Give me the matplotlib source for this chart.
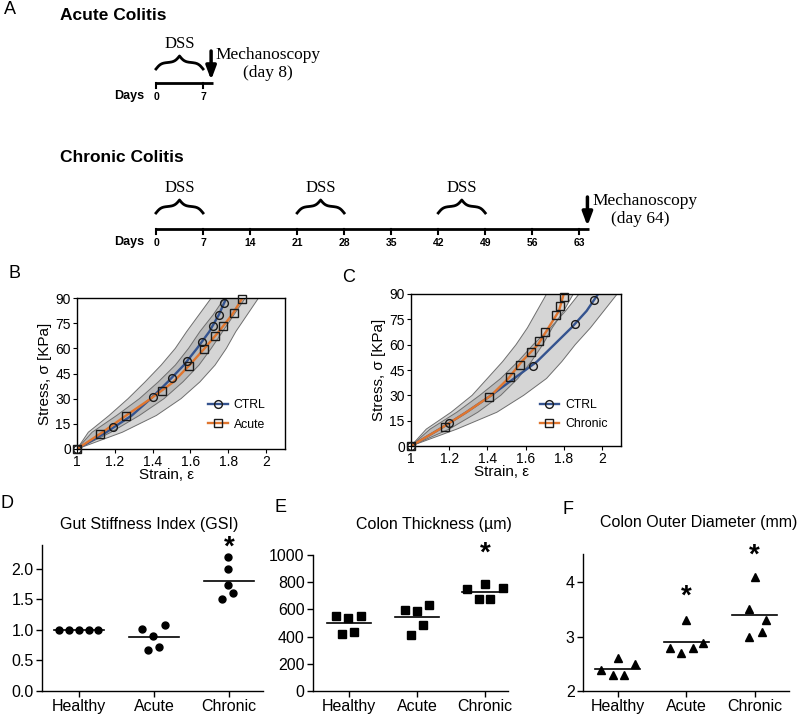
import numpy as np
import matplotlib
matplotlib.use('Agg')
import matplotlib.pyplot as plt
from matplotlib.lines import Line2D

plt.rcParams['font.family'] = ['Liberation Sans', 'DejaVu Sans']

# ---------------- data ----------------
# A: timelines (days)
acute_dss = [(0, 7)]
acute_ticks = [0, 7]
acute_mech_day = 8
chronic_dss = [(0, 7), (21, 28), (42, 49)]
chronic_ticks = [0, 7, 14, 21, 28, 35, 42, 49, 56, 63]
chronic_mech_day = 64

# B / C: stress-strain
fit_stress = [0, 10, 20, 30, 40, 50, 60, 70, 80, 90]
b_ctrl_fit = [1.0, 1.155, 1.29, 1.39, 1.48, 1.565, 1.635, 1.70, 1.75, 1.79]
b_acute_fit = [1.0, 1.135, 1.26, 1.39, 1.51, 1.595, 1.675, 1.75, 1.82, 1.875]
b_ctrl_strain = [1.0, 1.19, 1.40, 1.50, 1.58, 1.66, 1.72, 1.75, 1.78]
b_ctrl_stress = [0, 13.1, 31.1, 42.4, 52.3, 63.6, 73.2, 80.1, 86.8]
b_acute_strain = [1.0, 1.12, 1.26, 1.45, 1.59, 1.67, 1.73, 1.77, 1.83, 1.87]
b_acute_stress = [0, 8.9, 19.8, 34.5, 49.4, 59.5, 67.4, 73.2, 80.9, 89.4]

c_ctrl_fit = [1.0, 1.15, 1.29, 1.42, 1.54, 1.66, 1.75, 1.84, 1.92, 1.98]
c_chronic_fit = [1.0, 1.15, 1.29, 1.42, 1.51, 1.58, 1.665, 1.72, 1.775, 1.80]
c_ctrl_strain = [1.0, 1.20, 1.64, 1.86, 1.96]
c_ctrl_stress = [0, 13.8, 47.6, 72.4, 86.4]
c_chronic_strain = [1.0, 1.18, 1.41, 1.52, 1.57, 1.63, 1.67, 1.70, 1.76, 1.78, 1.80]
c_chronic_stress = [0, 11.2, 29.2, 40.9, 48.0, 55.7, 62.0, 67.5, 77.8, 83.1, 88.2]

band_stress = [0, 10, 20, 30, 40, 50, 60, 70, 80, 90, 100]
b_ctrl_lo = [1.0, 1.06, 1.17, 1.27, 1.36, 1.445, 1.52, 1.58, 1.645, 1.71, 1.77]
b_ctrl_hi = [1.0, 1.18, 1.33, 1.46, 1.56, 1.645, 1.71, 1.77, 1.83, 1.89, 1.95]
b_acute_lo = [1.0, 1.08, 1.21, 1.33, 1.43, 1.52, 1.59, 1.65, 1.72, 1.78, 1.84]
b_acute_hi = [1.0, 1.24, 1.42, 1.55, 1.65, 1.73, 1.79, 1.84, 1.90, 1.96, 2.02]
c_chronic_lo = [1.0, 1.08, 1.21, 1.32, 1.40, 1.48, 1.55, 1.61, 1.66, 1.71, 1.75]
c_chronic_hi = [1.0, 1.20, 1.35, 1.47, 1.56, 1.63, 1.69, 1.74, 1.80, 1.85, 1.89]
c_ctrl_lo = [1.0, 1.10, 1.24, 1.36, 1.47, 1.56, 1.64, 1.73, 1.81, 1.88, 1.94]
c_ctrl_hi = [1.0, 1.24, 1.45, 1.59, 1.71, 1.79, 1.86, 1.94, 2.01, 2.08, 2.14]

# D / E / F: per-animal values
groups = ['Healthy', 'Acute', 'Chronic']
gsi = [[1.0, 1.0, 1.0, 1.0, 1.0],
       [1.02, 0.90, 1.08, 0.67, 0.72],
       [2.19, 1.99, 1.74, 1.51, 1.60]]
thickness = [[554, 537, 554, 421, 436],
             [594, 586, 635, 411, 483],
             [751, 786, 759, 675, 675]]
diameter = [[2.39, 2.29, 2.60, 2.29, 2.49],
            [2.80, 2.70, 3.30, 2.80, 2.89],
            [3.51, 4.10, 3.30, 3.09, 3.00]]
gsi_stars = {2: 2.39}
thickness_stars = {2: 1030}
diameter_stars = {1: 3.79, 2: 4.54}

# horizontal scatter offsets of the dots
gsi_jit = [[-0.26, -0.13, 0, 0.13, 0.26],
           [-0.155, -0.01, 0.14, -0.075, 0.067],
           [-0.01, -0.02, -0.02, -0.10, 0.05]]
thick_jit = [[-0.19, -0.01, 0.17, -0.10, 0.08],
             [-0.18, 0, 0.18, -0.09, 0.09],
             [-0.26, 0, 0.26, -0.09, 0.08]]
diam_jit = [[-0.25, -0.07, 0, 0.09, 0.25],
            [-0.24, -0.08, 0, 0.09, 0.25],
            [-0.09, 0, 0.17, 0.10, -0.09]]

BLUE = '#34538f'
ORANGE = '#e0762f'
W, H = 800, 715


def box(l, t, r, b):
    return [l / W, 1 - b / H, (r - l) / W, (b - t) / H]


def ftext(px, py, s, **kw):
    fig.text(px / W, 1 - py / H, s, **kw)


fig = plt.figure(figsize=(8, 7.15), dpi=100)

# ---------------- A ----------------
PX0, PXD = 156, 6.72
ax0 = fig.add_axes([0, 0, 1, 1])
ax0.set_xlim(-PX0 / PXD, (W - PX0) / PXD)
ax0.set_ylim(H, 0)
ax0.axis('off')
serif = ['Liberation Serif', 'DejaVu Serif']


def brace(d0, d1, y_end, h):
    x = np.linspace(d0, d1, 201)
    half = x[:101]
    beta = 2.6
    yh = 1 / (1 + np.exp(-beta * (half - half[0]))) + 1 / (1 + np.exp(-beta * (half - half[-1])))
    yy = np.concatenate([yh, yh[-2::-1]])
    ax0.plot(x, y_end - h * (yy - 0.5), color='black', lw=2)


def timeline(y_line, dss, ticks, mech_day, y_dss, label_day):
    ax0.plot([0, mech_day + 0.5], [y_line, y_line], color='black', lw=2, solid_capstyle='butt')
    for t in ticks:
        ax0.plot([t, t], [y_line, y_line + 5], color='black', lw=1.5)
        ax0.text(t, y_line + 14, str(t), ha='center', va='center', fontsize=7.5, fontweight='bold')
    ax0.text(-1.7, y_line + 13, 'Days', ha='right', va='center', fontsize=9, fontweight='bold')
    for d0, d1 in dss:
        brace(d0, d1, y_dss + 25, 13)
        ax0.text((d0 + d1) / 2, y_dss, 'DSS', ha='center', va='center', fontsize=12, family=serif)
    ax0.annotate('', xy=(mech_day + 0.2, y_line - 3), xytext=(mech_day + 0.2, y_line - 32),
                 arrowprops=dict(arrowstyle='-|>,head_width=0.3,head_length=0.8', lw=2.5,
                                 color='black', shrinkA=0, shrinkB=0))
    ax0.text(mech_day + 0.9, y_line - 28, 'Mechanoscopy', ha='left', va='center', fontsize=12.5, family=serif)
    ax0.text(label_day, y_line - 10, '(day %d)' % mech_day, ha='center', va='center', fontsize=12.5, family=serif)


timeline(83, acute_dss, acute_ticks, acute_mech_day, 44, 16.7)
timeline(229, chronic_dss, chronic_ticks, chronic_mech_day, 188, 72.0)

ftext(4, 10, 'A', fontsize=13, va='center')
ftext(60, 16, 'Acute Colitis', fontsize=12.5, fontweight='bold', va='center')
ftext(60, 158, 'Chronic Colitis', fontsize=12.5, fontweight='bold', va='center')


# ---------------- B / C ----------------
def strain_panel(rect, bands, curves, leg_labels, leg_anchor):
    ax = fig.add_axes(rect)
    for lo, hi in bands:
        ax.fill_betweenx(band_stress, lo, hi, facecolor='#8c8c8c', alpha=0.36, edgecolor='none')
        ax.plot(lo, band_stress, color='#6e6e6e', lw=0.7)
        ax.plot(hi, band_stress, color='#6e6e6e', lw=0.7)
    handles = []
    for fit, xs, ys, col, mk in curves:
        ax.plot(fit, fit_stress, color=col, lw=1.7)
        ax.plot(xs, ys, mk, mfc='none', mec='#1a1a1a', ms=5.6, mew=1.0, clip_on=False, zorder=4)
        handles.append(Line2D([], [], color=col, lw=1.7, marker=mk, mfc='none', mec='#1a1a1a', ms=5.6, mew=1.0))
    ax.set_xlim(1, 2.1)
    ax.set_ylim(0, 90)
    ax.set_xticks([1, 1.2, 1.4, 1.6, 1.8, 2])
    ax.set_xticklabels(['1', '1.2', '1.4', '1.6', '1.8', '2'])
    ax.set_yticks([0, 15, 30, 45, 60, 75, 90])
    ax.tick_params(direction='out', length=3, width=0.8, labelsize=10, pad=1.5)
    for s in ax.spines.values():
        s.set_linewidth(1.0)
    ax.set_xlabel('Strain, ε', fontsize=11)
    ax.xaxis.set_label_coords(0.43, -0.125)
    ax.set_ylabel('Stress, σ [KPa]', fontsize=11, labelpad=2)
    ax.legend(handles, leg_labels, loc='lower right', bbox_to_anchor=leg_anchor, frameon=False,
              fontsize=8.8, handlelength=1.6, handletextpad=0.5, labelspacing=0.6, borderaxespad=0)
    return ax


strain_panel(box(77, 298, 285, 449),
             [(b_ctrl_lo, b_ctrl_hi), (b_acute_lo, b_acute_hi)],
             [(b_ctrl_fit, b_ctrl_strain, b_ctrl_stress, BLUE, 'o'),
              (b_acute_fit, b_acute_strain, b_acute_stress, ORANGE, 's')],
             ['CTRL', 'Acute'], (0.93, 0.09))
strain_panel(box(411, 294, 621, 446),
             [(c_chronic_lo, c_chronic_hi), (c_ctrl_lo, c_ctrl_hi)],
             [(c_ctrl_fit, c_ctrl_strain, c_ctrl_stress, BLUE, 'o'),
              (c_chronic_fit, c_chronic_strain, c_chronic_stress, ORANGE, 's')],
             ['CTRL', 'Chronic'], (0.96, 0.07))
ftext(8, 274, 'B', fontsize=13, va='center')
ftext(342, 277, 'C', fontsize=13, va='center')


# ---------------- D / E / F ----------------
def dot_panel(rect, values, jit, marker, ms, xlim, ylim, yticks, ytl, stars):
    ax = fig.add_axes(rect)
    for i, (vals, jj) in enumerate(zip(values, jit)):
        ax.plot([i + j for j in jj], vals, marker, color='black', ms=ms, ls='none', clip_on=False, zorder=3)
        ax.plot([i - 0.33, i + 0.33], [np.mean(vals)] * 2, color='black', lw=1.2)
    for i, y in stars.items():
        ax.text(i, y, '*', ha='center', va='center_baseline', fontsize=20, fontweight='bold')
    ax.set_xlim(*xlim)
    ax.set_ylim(*ylim)
    ax.set_xticks(range(len(groups)))
    ax.set_xticklabels(groups)
    ax.set_yticks(yticks)
    ax.set_yticklabels(ytl)
    ax.spines['top'].set_visible(False)
    ax.spines['right'].set_visible(False)
    for s in ('left', 'bottom'):
        ax.spines[s].set_linewidth(1.0)
    ax.tick_params(direction='out', length=4, width=1.0, labelsize=11.5, pad=2)
    return ax


dot_panel(box(42, 545, 263, 691), gsi, gsi_jit, 'o', 5.0, (-0.49, 2.45), (0, 2.39),
          [0, 0.5, 1.0, 1.5, 2.0], ['0.0', '0.5', '1.0', '1.5', '2.0'], gsi_stars)
dot_panel(box(313, 555, 508, 691), thickness, thick_jit, 's', 5.4, (-0.53, 2.34), (0, 1000),
          [0, 200, 400, 600, 800, 1000], ['0', '200', '400', '600', '800', '1000'], thickness_stars)
dot_panel(box(583, 554, 789, 691), diameter, diam_jit, '^', 5.6, (-0.51, 2.5), (2, 4.52),
          [2, 3, 4], ['2', '3', '4'], diameter_stars)

ftext(149, 524, 'Gut Stiffness Index (GSI)', fontsize=11.5, ha='center', va='center')
ftext(434, 524, 'Colon Thickness (µm)', fontsize=11.5, ha='center', va='center')
ftext(699, 523, 'Colon Outer Diameter (mm)', fontsize=11.5, ha='center', va='center')
ftext(1, 503, 'D', fontsize=13, va='center')
ftext(275, 508, 'E', fontsize=13, va='center')
ftext(563, 510, 'F', fontsize=13, va='center')

fig.savefig('out.png', dpi=100)
